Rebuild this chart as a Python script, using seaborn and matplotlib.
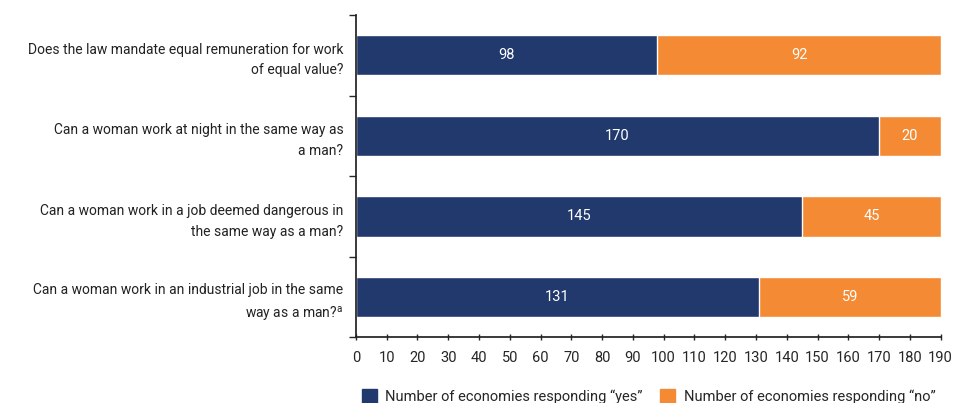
import matplotlib
matplotlib.use('Agg')
import matplotlib.pyplot as plt
from matplotlib import font_manager
from matplotlib.patches import Patch
import seaborn as sns
import pandas as pd
import numpy as np

# 数据
questions = [
    'Does the law mandate equal remuneration for work\nof equal value?',
    'Can a woman work at night in the same way as\na man?',
    'Can a woman work in a job deemed dangerous in\nthe same way as a man?',
    'Can a woman work in an industrial job in the same\nway as a man?$^{\\mathrm{a}}$',
]
yes_counts = [98, 170, 145, 131]
no_counts = [92, 20, 45, 59]
x_ticks = list(range(0, 191, 10))

navy = '#22396e'
orange = '#f48a33'

sns.set_theme(style='white')
names = {f.name for f in font_manager.fontManager.ttflist}
fam = 'Liberation Sans Narrow' if 'Liberation Sans Narrow' in names else 'Roboto'
plt.rcParams['font.family'] = [fam, 'DejaVu Sans']
plt.rcParams['mathtext.fontset'] = 'custom'
plt.rcParams['mathtext.rm'] = fam

df = pd.DataFrame({'question': questions, 'yes': yes_counts, 'no': no_counts})
df['total'] = df['yes'] + df['no']

fig = plt.figure(figsize=(9.54, 4.03), dpi=100)
ax = fig.add_axes([0.373, 0.163, 0.613, 0.80])

# 叠加条形图：先画总数（橙色），再画yes（深蓝）
sns.barplot(data=df, y='question', x='total', color=orange, width=0.5,
            saturation=1, ax=ax, orient='h')
sns.barplot(data=df, y='question', x='yes', color=navy, width=0.5,
            saturation=1, ax=ax, orient='h')

for i, row in df.iterrows():
    ax.text(row['yes'] / 2, i, str(row['yes']), color='white', ha='center',
            va='center', fontsize=10.5)
    ax.text(row['yes'] + row['no'] / 2, i, str(row['no']), color='white',
            ha='center', va='center', fontsize=10.5)

ax.set_xlim(0, 190)
ax.set_ylim(3.5, -0.5)
ax.set_xticks(x_ticks)
ax.set_xticklabels([str(t) for t in x_ticks], fontsize=10.5)
ax.set_yticks(np.arange(-0.5, 4, 1))
ax.set_yticklabels([])
ax.set_yticks(range(len(questions)), minor=True)
ax.set_yticklabels(questions, minor=True, fontsize=10, color='#222222')
ax.tick_params(axis='y', which='minor', length=0, pad=9)
ax.tick_params(axis='y', which='major', length=5, width=1, direction='out', left=True)
ax.tick_params(axis='x', length=5, width=1, direction='inout', bottom=True, pad=7)
ax.set_xlabel('')
ax.set_ylabel('')
for lbl in ax.get_yticklabels(minor=True):
    lbl.set_multialignment('right')
    lbl.set_linespacing(1.6)

sns.despine(ax=ax, top=True, right=True)
ax.spines['left'].set_color('#222222')
ax.spines['bottom'].set_color('#222222')

handles = [Patch(color=navy, label='Number of economies responding \u201cyes\u201d'),
           Patch(color=orange, label='Number of economies responding \u201cno\u201d')]
fig.legend(handles=handles, loc='lower center', bbox_to_anchor=(0.68, -0.035),
           ncol=2, frameon=False, fontsize=10.5, handlelength=1.0, handleheight=1.0,
           columnspacing=1.2, handletextpad=0.6)

fig.savefig('out.png', dpi=100)
